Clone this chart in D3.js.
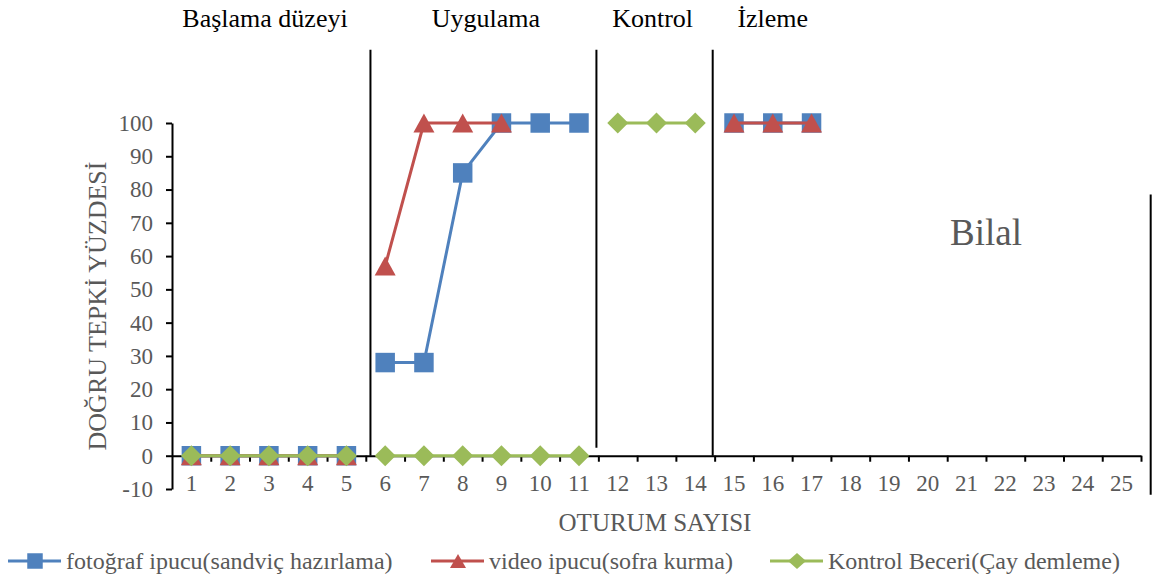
<!DOCTYPE html>
<html>
<head>
<meta charset="utf-8">
<script src="https://cdn.jsdelivr.net/npm/d3@7"></script>
<style>
  body { margin: 0; background: #fff; }
  svg text { font-family: "Liberation Serif", "Times New Roman", serif; }
</style>
</head>
<body>
<div id="chart"></div>
<script>
// oturumlar ve seriler
var sessions = d3.range(1, 26);
var fotoValues  = [0, 0, 0, 0, 0, 28, 28, 85, 100, 100, 100, null, null, null, 100, 100, 100, null, null, null, null, null, null, null, null];
var videoValues = [0, 0, 0, 0, 0, 57, 100, 100, 100, null, null, null, null, null, 100, 100, 100, null, null, null, null, null, null, null, null];
var kontValues  = [0, 0, 0, 0, 0, 0, 0, 0, 0, 0, 0, 100, 100, 100, null, null, null, null, null, null, null, null, null, null, null];
var yTicks = d3.range(-10, 101, 10);

// faz sınırları (oturum sonları) ve başlıkları
var phaseEnds = [5, 11, 14, 25];
var phaseNames = ["Başlama düzeyi", "Uygulama", "Kontrol", "İzleme"];
var phaseLabelAt = [2.9, 8.6, 12.9, 16.0];
var phaseLines = [
    { at: 5.62, from: 0, to: 122 },
    { at: 11.45, from: 2.4, to: 122 },
    { at: 14.45, from: 0, to: 122 },
    { at: 25.75, from: -11.7, to: 78.5 }
];

// Excel tarzı işaretler (kutunun ortasına göre)
function diamond(w, h) {
    return "M0," + (-h / 2) + "L" + (w / 2) + ",0L0," + (h / 2) + "L" + (-w / 2) + ",0Z";
}
function triangle(w, h) {
    return "M0," + (-h / 2) + "L" + (w / 2) + "," + (h / 2) + "L" + (-w / 2) + "," + (h / 2) + "Z";
}

var series = [
    { name: "fotoğraf ipucu(sandviç hazırlama)", values: fotoValues, color: "#4F81BD",
      mark: d3.symbol().type(d3.symbolSquare).size(380)(), key: d3.symbol().type(d3.symbolSquare).size(240)() },
    { name: "video ipucu(sofra kurma)", values: videoValues, color: "#C0504D",
      mark: triangle(21, 19), key: triangle(16, 14) },
    { name: "Kontrol Beceri(Çay demleme)", values: kontValues, color: "#9BBB59",
      mark: diamond(21, 21), key: diamond(18, 16) }
];

var width = 1156, height = 581;
var svg = d3.select("#chart").append("svg")
    .attr("width", width)
    .attr("height", height);

var x = d3.scaleLinear().domain([0.5, 25.5]).range([172, 1141]);
var y = d3.scaleLinear().domain([-10, 100]).range([489, 123]);

// Y ekseni
var yAxis = svg.append("g")
    .attr("transform", "translate(" + x(0.5) + ",0)")
    .call(d3.axisLeft(y).tickValues(yTicks).tickSize(6).tickSizeOuter(0).tickPadding(13)
        .tickFormat(function (d) { return String(d); }));
yAxis.select(".domain").attr("stroke", "#000").attr("stroke-width", 2);
yAxis.selectAll(".tick line").attr("stroke", "#000").attr("stroke-width", 2);
yAxis.selectAll(".tick text")
    .attr("fill", "#595959")
    .style("font-size", "23px");

// X ekseni (0 çizgisinde)
var xAxis = svg.append("g")
    .attr("transform", "translate(0," + y(0) + ")")
    .call(d3.axisBottom(x).tickValues(d3.range(1.5, 25.6, 1)).tickSize(6).tickSizeOuter(0).tickFormat(""));
xAxis.select(".domain").attr("stroke", "#000").attr("stroke-width", 2);
xAxis.selectAll(".tick line").attr("stroke", "#000").attr("stroke-width", 2);

svg.append("g").selectAll("text")
    .data(sessions)
    .enter()
    .append("text")
    .attr("x", function (d) { return x(d); })
    .attr("y", 491)
    .attr("text-anchor", "middle")
    .attr("fill", "#595959")
    .style("font-size", "23px")
    .text(function (d) { return d; });

// faz çizgileri
svg.append("g").selectAll("line")
    .data(phaseLines)
    .enter()
    .append("line")
    .attr("x1", function (d) { return x(d.at); })
    .attr("x2", function (d) { return x(d.at); })
    .attr("y1", function (d) { return y(d.to); })
    .attr("y2", function (d) { return y(d.from); })
    .attr("stroke", "#000")
    .attr("stroke-width", 2);

svg.append("g").selectAll("text")
    .data(phaseNames)
    .enter()
    .append("text")
    .attr("x", function (d, i) { return x(phaseLabelAt[i]); })
    .attr("y", 27)
    .attr("text-anchor", "middle")
    .attr("fill", "#000")
    .style("font-size", "26px")
    .text(function (d) { return d; });

// seriler: çizgiler fazlara göre bölünür
function phaseOf(s) {
    for (var i = 0; i < phaseEnds.length; i++) {
        if (s <= phaseEnds[i]) return i;
    }
    return phaseEnds.length;
}

var line = d3.line()
    .x(function (d) { return x(d.s); })
    .y(function (d) { return y(d.v); });

series.forEach(function (ser) {
    var pts = sessions.map(function (s, i) { return { s: s, v: ser.values[i] }; })
        .filter(function (d) { return d.v !== null; });
    var groups = d3.groups(pts, function (d) { return phaseOf(d.s); });
    var g = svg.append("g");
    g.selectAll("path.line")
        .data(groups)
        .enter()
        .append("path")
        .attr("class", "line")
        .attr("d", function (d) { return line(d[1]); })
        .attr("fill", "none")
        .attr("stroke", ser.color)
        .attr("stroke-width", 3);
    g.selectAll("path.mark")
        .data(pts)
        .enter()
        .append("path")
        .attr("class", "mark")
        .attr("transform", function (d) { return "translate(" + x(d.s) + "," + y(d.v) + ")"; })
        .attr("d", ser.mark)
        .attr("fill", ser.color);
});

// eksen başlıkları
svg.append("text")
    .attr("transform", "translate(106," + y(45) + ") rotate(-90)")
    .attr("text-anchor", "middle")
    .attr("fill", "#595959")
    .style("font-size", "26px")
    .text("DOĞRU TEPKİ YÜZDESİ");

svg.append("text")
    .attr("x", 655)
    .attr("y", 531)
    .attr("text-anchor", "middle")
    .attr("fill", "#595959")
    .style("font-size", "25px")
    .text("OTURUM SAYISI");

svg.append("text")
    .attr("x", 986)
    .attr("y", 245)
    .attr("text-anchor", "middle")
    .attr("fill", "#595959")
    .style("font-size", "37px")
    .text("Bilal");

// lejant
var legendX = [8, 431, 770];
var legend = svg.append("g").selectAll("g")
    .data(series)
    .enter()
    .append("g")
    .attr("transform", function (d, i) { return "translate(" + legendX[i] + ",561)"; });
legend.append("line")
    .attr("x1", 0).attr("x2", 53)
    .attr("stroke", function (d) { return d.color; })
    .attr("stroke-width", 3);
legend.append("path")
    .attr("transform", "translate(27,0)")
    .attr("d", function (d) { return d.key; })
    .attr("fill", function (d) { return d.color; });
legend.append("text")
    .attr("x", 58)
    .attr("y", 8)
    .attr("fill", "#595959")
    .style("font-size", "24px")
    .text(function (d) { return d.name; });
</script>
</body>
</html>
